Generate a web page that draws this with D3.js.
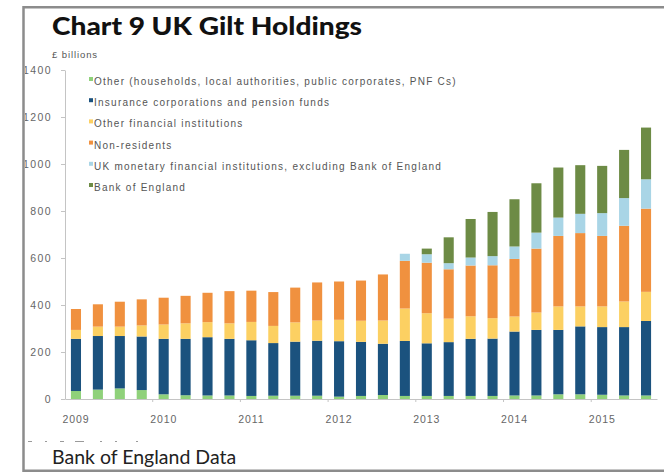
<!DOCTYPE html>
<html>
<head>
<meta charset="utf-8">
<script src="https://cdn.jsdelivr.net/npm/d3@7"></script>
<style>
  html, body { margin: 0; padding: 0; background: #fff; }
  svg { display: block; }
</style>
</head>
<body>
<div id="chart"></div>
<script>
// Quarterly observations, 2009 Q1 to 2015 Q3
const quarters = [
  "2009 Q1", "2009 Q2", "2009 Q3", "2009 Q4",
  "2010 Q1", "2010 Q2", "2010 Q3", "2010 Q4",
  "2011 Q1", "2011 Q2", "2011 Q3", "2011 Q4",
  "2012 Q1", "2012 Q2", "2012 Q3", "2012 Q4",
  "2013 Q1", "2013 Q2", "2013 Q3", "2013 Q4",
  "2014 Q1", "2014 Q2", "2014 Q3", "2014 Q4",
  "2015 Q1", "2015 Q2", "2015 Q3"
];
const yearTicks = ["2009 Q1", "2010 Q1", "2011 Q1", "2012 Q1", "2013 Q1", "2014 Q1", "2015 Q1"];
const yearLabels = ["2009", "2010", "2011", "2012", "2013", "2014", "2015"];
const yTicks = [0, 200, 400, 600, 800, 1000, 1200, 1400];

const seriesNames = [
  "Other (households, local authorities, public corporates, PNF Cs)",
  "Insurance corporations and pension funds",
  "Other financial institutions",
  "Non-residents",
  "UK monetary financial institutions, excluding Bank of England",
  "Bank of England"
];
const seriesColors = ["#8fd17a", "#1b527e", "#fcd062", "#f0913f", "#a9d5e6", "#6d8b45"];

// £ billions, stacked bottom to top in legend order
const other = [34, 40, 45, 38, 20, 16, 15, 15, 13, 14, 14, 14, 10, 13, 17, 13, 13, 13, 13, 13, 15, 15, 20, 20, 18, 15, 15];
const insurance = [222, 228, 223, 228, 236, 240, 248, 241, 237, 224, 230, 234, 236, 230, 218, 234, 224, 229, 243, 244, 272, 279, 274, 289, 288, 291, 317];
const otherFinancial = [38, 40, 40, 47, 61, 66, 64, 66, 78, 73, 82, 86, 91, 90, 99, 138, 128, 100, 96, 87, 64, 74, 100, 85, 88, 109, 124];
const nonResidents = [89, 95, 106, 111, 114, 117, 125, 137, 133, 144, 148, 162, 163, 171, 196, 203, 215, 210, 216, 225, 245, 272, 300, 312, 300, 322, 354];
const ukMfi = [0, 0, 0, 0, 0, 0, 0, 0, 0, 0, 0, 0, 0, 0, 0, 30, 36, 26, 34, 39, 53, 68, 78, 82, 97, 118, 125];
const bankOfEngland = [0, 0, 0, 0, 0, 0, 0, 0, 0, 0, 0, 0, 0, 0, 0, 0, 24, 110, 164, 188, 201, 210, 213, 207, 201, 205, 220];

// Leftover marks of a half-hidden source line under the plot
const sourceDashes = [[28, 32], [45, 47], [60, 64], [75, 84], [100, 102], [115, 117], [136, 138]];

const width = 664;
const height = 475;

const rows = quarters.map((q, i) => ({
  quarter: q,
  s0: other[i],
  s1: insurance[i],
  s2: otherFinancial[i],
  s3: nonResidents[i],
  s4: ukMfi[i],
  s5: bankOfEngland[i]
}));
const keys = ["s0", "s1", "s2", "s3", "s4", "s5"];
const stacked = d3.stack().keys(keys)(rows);

const x = d3.scaleBand()
  .domain(quarters)
  .range([65, 657])
  .paddingInner(0.54)
  .paddingOuter(0.27);

const y = d3.scaleLinear()
  .domain([0, 1400])
  .range([399, 70]);

const svg = d3.select("#chart")
  .append("svg")
  .attr("width", width)
  .attr("height", height);

// Clip everything to the inside of the frame
svg.append("defs").append("clipPath")
  .attr("id", "frame-clip")
  .append("rect")
  .attr("x", 25)
  .attr("y", 8.5)
  .attr("width", 660)
  .attr("height", 461);

const g = svg.append("g").attr("clip-path", "url(#frame-clip)");

// Title
g.append("text")
  .attr("x", 52)
  .attr("y", 35)
  .attr("textLength", 310)
  .attr("lengthAdjust", "spacingAndGlyphs")
  .style("font-family", "Lato, 'Open Sans', sans-serif")
  .style("font-weight", "900")
  .style("font-size", "24px")
  .style("fill", "#111")
  .text("Chart 9 UK Gilt Holdings");

// Units
g.append("text")
  .attr("x", 52)
  .attr("y", 58)
  .style("font-family", "'Liberation Sans', Arial, sans-serif")
  .style("font-size", "9.5px")
  .style("letter-spacing", "0.9px")
  .style("fill", "#555")
  .text("£ billions");

// Y axis
const yAxis = g.append("g")
  .attr("transform", "translate(65,0)")
  .call(d3.axisLeft(y).tickValues(yTicks).tickFormat(d3.format("d"))
    .tickSize(4).tickSizeOuter(0).tickPadding(9));
yAxis.select(".domain").attr("stroke", "#c4c4c4");
yAxis.selectAll(".tick line").attr("stroke", "#c4c4c4");
yAxis.selectAll(".tick text")
  .style("font-family", "'Liberation Sans', Arial, sans-serif")
  .style("font-size", "10.5px")
  .style("letter-spacing", "1.4px")
  .style("fill", "#666");

// Bars
g.append("g")
  .selectAll("g")
  .data(stacked)
  .join("g")
  .attr("fill", (d, i) => seriesColors[i])
  .selectAll("rect")
  .data(d => d)
  .join("rect")
  .attr("x", d => x(d.data.quarter))
  .attr("y", d => y(d[1]))
  .attr("width", x.bandwidth())
  .attr("height", d => y(d[0]) - y(d[1]));

// X axis
const xAxis = g.append("g")
  .attr("transform", "translate(0,399)")
  .call(d3.axisBottom(x).tickValues(yearTicks).tickSize(0).tickSizeOuter(0).tickPadding(17)
    .tickFormat((d, i) => yearLabels[i]));
xAxis.select(".domain").attr("stroke", "#c4c4c4");
xAxis.selectAll(".tick text")
  .style("font-family", "'Liberation Sans', Arial, sans-serif")
  .style("font-size", "10.5px")
  .style("letter-spacing", "0.9px")
  .style("fill", "#666");

// Small ticks at year boundaries
const gap = x.step() - x.bandwidth();
g.append("g")
  .selectAll("line")
  .data(yearTicks.slice(1))
  .join("line")
  .attr("x1", d => x(d) - gap / 2)
  .attr("x2", d => x(d) - gap / 2)
  .attr("y1", 399)
  .attr("y2", 402)
  .attr("stroke", "#c4c4c4");

// Legend
const legend = g.append("g")
  .selectAll("g")
  .data(seriesNames)
  .join("g")
  .attr("transform", (d, i) => `translate(89,${81.5 + i * 21.2})`);
legend.append("rect")
  .attr("x", 0)
  .attr("y", -4.5)
  .attr("width", 4)
  .attr("height", 4)
  .attr("fill", (d, i) => seriesColors[i]);
legend.append("text")
  .attr("x", 5)
  .attr("dy", "0.35em")
  .style("font-family", "'Liberation Sans', Arial, sans-serif")
  .style("font-size", "10px")
  .style("letter-spacing", "1.25px")
  .style("fill", "#555")
  .text(d => d);

// Faint dashes left of the source line
g.append("g")
  .selectAll("line")
  .data(sourceDashes)
  .join("line")
  .attr("x1", d => d[0])
  .attr("x2", d => d[1])
  .attr("y1", 441.5)
  .attr("y2", 441.5)
  .attr("stroke", "#9a9a9a")
  .attr("stroke-width", 1);

// Footer
g.append("text")
  .attr("x", 52)
  .attr("y", 464)
  .style("font-family", "Lato, 'Open Sans', sans-serif")
  .style("font-size", "19.5px")
  .style("fill", "#222")
  .text("Bank of England Data");

// Frame
svg.append("rect")
  .attr("x", 23.5)
  .attr("y", 7.25)
  .attr("width", 700)
  .attr("height", 463.5)
  .attr("fill", "none")
  .attr("stroke", "#8c8c8c")
  .attr("stroke-width", 2.5);
</script>
</body>
</html>
